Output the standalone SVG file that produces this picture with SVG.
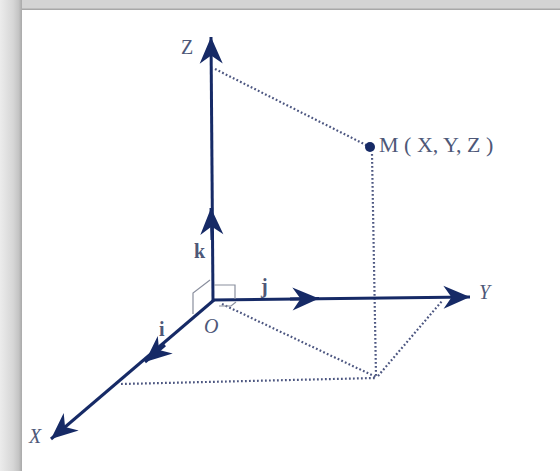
<svg xmlns="http://www.w3.org/2000/svg" width="560" height="471" viewBox="0 0 560 471">
  <defs>
    <linearGradient id="leftBand" x1="0" y1="0" x2="1" y2="0">
      <stop offset="0" stop-color="#ececec"/>
      <stop offset="0.6" stop-color="#d6d6d6"/>
      <stop offset="0.85" stop-color="#c4c4c4"/>
      <stop offset="1" stop-color="#a9a9a9"/>
    </linearGradient>
    <marker id="arrow" markerUnits="userSpaceOnUse" markerWidth="30" markerHeight="30" refX="0" refY="0" viewBox="-24 -12 26 24" orient="auto" overflow="visible">
      <path d="M0,0 L-23,-10 L-16,0 L-23,10 Z" fill="#162a66"/>
    </marker>
  </defs>
  <style>
    .axis { stroke: #162a66; stroke-width: 3; fill: none; stroke-linecap: butt; }
    .dot { stroke: #4c5680; stroke-width: 2.2; fill: none; stroke-dasharray: 1.8 2.2; }
    .thin { stroke: #8a8f9e; stroke-width: 1.2; fill: none; }
    .lbl { font-family: "Liberation Serif", serif; fill: #4e5878; }
    .it { font-style: italic; }
  </style>

  <!-- frame -->
  <rect x="0" y="0" width="560" height="471" fill="#ffffff"/>
  <rect x="0" y="0" width="560" height="10" fill="#d4d4d4"/>
  <rect x="0" y="8.5" width="560" height="1.5" fill="#a8a8a8"/>
  <rect x="0" y="0" width="22" height="471" fill="url(#leftBand)"/>

  <!-- connectors (dotted construction lines) -->
  <g id="connectors">
    <line class="dot" x1="215" y1="69" x2="368" y2="146"/>
    <line class="dot" x1="372" y1="154" x2="376" y2="376"/>
    <line class="dot" x1="222" y1="304" x2="376" y2="377"/>
    <line class="dot" x1="378" y1="376" x2="442" y2="301"/>
    <line class="dot" x1="121" y1="384" x2="376" y2="378"/>
  </g>

  <!-- axes -->
  <g id="axis-z">
    <line class="axis" x1="213" y1="301" x2="211" y2="37" marker-end="url(#arrow)"/>
    <text class="lbl" x="181" y="54" font-size="20">Z</text>
  </g>
  <g id="axis-y">
    <line class="axis" x1="212" y1="300" x2="470" y2="297" marker-end="url(#arrow)"/>
    <text class="lbl it" x="479" y="299" font-size="20">Y</text>
  </g>
  <g id="axis-x">
    <line class="axis" x1="214" y1="300" x2="51" y2="439" marker-end="url(#arrow)"/>
    <text class="lbl it" x="29" y="443" font-size="20">X</text>
  </g>

  <!-- unit vectors -->
  <g id="vec-k">
    <line class="axis" x1="212" y1="240" x2="211" y2="208" marker-end="url(#arrow)"/>
    <text class="lbl" x="194" y="258" font-size="20" font-weight="bold">k</text>
  </g>
  <g id="vec-j">
    <line class="axis" x1="290" y1="299" x2="319" y2="298.6" marker-end="url(#arrow)"/>
    <text class="lbl" x="261" y="293" font-size="20" font-weight="bold">j</text>
  </g>
  <g id="vec-i">
    <line class="axis" x1="165" y1="345" x2="145" y2="362" marker-end="url(#arrow)"/>
    <text class="lbl" x="159" y="336" font-size="20" font-weight="bold">i</text>
  </g>

  <!-- origin with right-angle marks -->
  <g id="origin">
    <path class="thin" d="M214,285 L235,285 L235,299"/>
    <path class="thin" d="M210,280 L193,293 L193,314"/>
    <path class="thin" d="M219,306 L231,306 L236,302"/>
    <text class="lbl it" x="204" y="333" font-size="20">O</text>
  </g>

  <!-- point M -->
  <g id="point-m">
    <circle cx="370" cy="147" r="5" fill="#162a66"/>
    <text class="lbl" x="379" y="152" font-size="22" fill="#3a4670">M ( X, Y, Z )</text>
  </g>
</svg>
